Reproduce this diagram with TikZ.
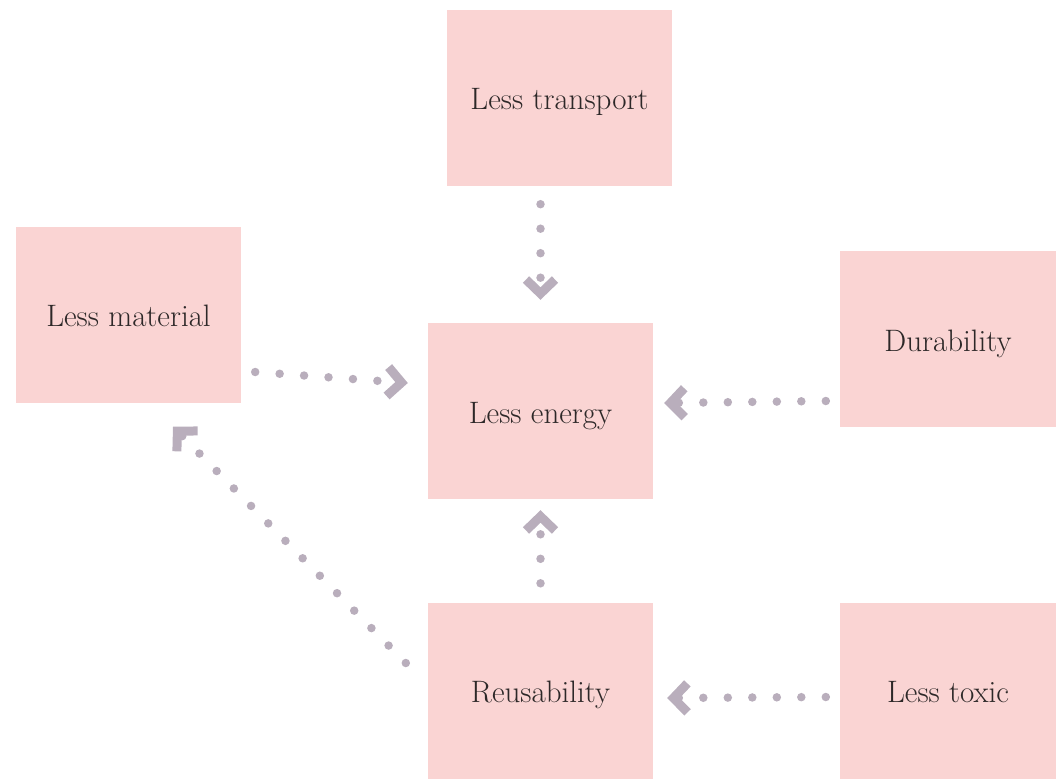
\documentclass[tikz,border=0pt]{standalone}
\usetikzlibrary{arrows.meta}
\definecolor{boxpink}{RGB}{250,212,211}
\definecolor{linkgrey}{RGB}{185,174,188}
\definecolor{labelgrey}{RGB}{45,40,40}
\begin{document}
\begin{tikzpicture}[x=1pt,y=-1pt,
  idea/.style={rectangle, fill=boxpink, minimum width=225pt, minimum height=176pt,
    inner sep=0pt, text=labelgrey, font=\fontsize{31}{36}\selectfont,
    text height=30pt, text depth=6pt},
  link/.style={draw=linkgrey, line width=8.5pt, line cap=round,
    dash pattern=on 0pt off 24.5pt,
    -{Straight Barb[sharp, length=14pt, width=29pt, line width=9pt]}}]
\useasboundingbox (0,0) rectangle (1056,778);

% boxes
\node[idea] (trans)  at (559.5,98)   {Less transport};
\node[idea] (mat)    at (128.5,314.5){Less material};
\node[idea] (energy) at (540.5,411)  {Less energy};
\node[idea, minimum width=216pt] (dur) at (948,339) {Durability};
\node[idea] (reuse)  at (540.5,690.5){Reusability};
\node[idea, minimum width=216pt] (toxic) at (948,690.5) {Less toxic};

% dotted links
\draw[link] ([shift={(-19,18)}]trans.south) -- ([shift={(0,-23)}]energy.north);
\draw[link] ([shift={(14,57.5)}]mat.east) -- ([shift={(-20,-28)}]energy.west);
\draw[link] ([shift={(-14,62)}]dur.west) -- ([shift={(11,-8)}]energy.east);
\draw[link] ([shift={(0,-19)}]reuse.north) -- ([shift={(0,11)}]energy.south);
\draw[link] ([shift={(-22,-27.5)}]reuse.west) -- ([shift={(44.5,24)}]mat.south);
\draw[link] ([shift={(-14,6.5)}]toxic.west) -- ([shift={(14,7.5)}]reuse.east);
\end{tikzpicture}
\end{document}
